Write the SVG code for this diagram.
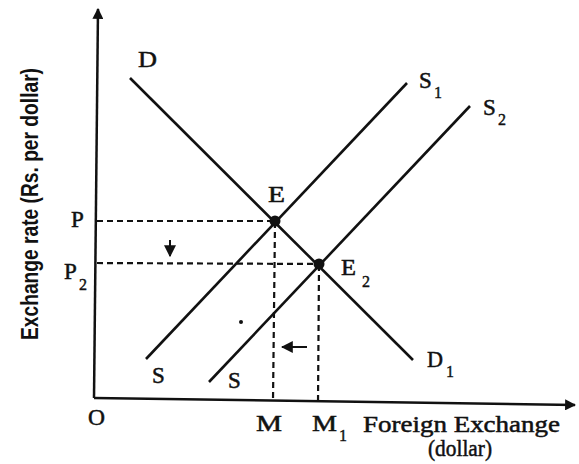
<svg xmlns="http://www.w3.org/2000/svg" width="579" height="464" viewBox="0 0 579 464">
<style>
.ax{stroke:#111;stroke-width:2.5;fill:none}
.ln{stroke:#111;stroke-width:2.6;fill:none;stroke-linecap:butt}
.dash{stroke:#111;stroke-width:2.2;fill:none;stroke-dasharray:6 4}
.t{font-family:"Liberation Serif","Times New Roman",serif;fill:#111;font-size:23px;stroke:#111;stroke-width:0.5}
.sub{font-family:"Liberation Serif","Times New Roman",serif;fill:#111;font-size:16px;stroke:#111;stroke-width:0.4}
.yl{font-family:"Liberation Sans",Arial,sans-serif;fill:#111;font-size:24px;font-weight:bold}
</style>
<defs>
<marker id="ah" viewBox="0 0 10 10" refX="9" refY="5" markerWidth="4.4" markerHeight="4.4" orient="auto" markerUnits="strokeWidth">
<path d="M0,0 L10,5 L0,10 z" fill="#111"/>
</marker>
<marker id="ahs" viewBox="0 0 10 10" refX="9" refY="5" markerWidth="6" markerHeight="6" orient="auto" markerUnits="strokeWidth">
<path d="M0,0 L10,5 L0,10 z" fill="#111"/>
</marker>
</defs>
<rect width="579" height="464" fill="#fff"/>
<g id="axes">
<line class="ax" x1="94" y1="398" x2="98" y2="9" marker-end="url(#ah)"/>
<line class="ax" x1="94" y1="398" x2="575" y2="405" marker-end="url(#ah)"/>
<text class="yl" transform="translate(38,340) rotate(-90)" textLength="272" lengthAdjust="spacingAndGlyphs">Exchange rate (Rs. per dollar)</text>
<text class="t" x="88" y="425" textLength="17" lengthAdjust="spacingAndGlyphs">O</text>
<text class="t" x="363" y="432" font-size="25" textLength="197" lengthAdjust="spacingAndGlyphs">Foreign Exchange</text>
<text class="t" x="428" y="456" textLength="64" lengthAdjust="spacingAndGlyphs">(dollar)</text>
</g>
<g id="connectors">
<line class="dash" x1="97" y1="221" x2="275" y2="221"/>
<line class="dash" x1="97" y1="263" x2="319" y2="264"/>
<line class="dash" x1="275" y1="222" x2="273" y2="401"/>
<line class="dash" x1="319" y1="265" x2="318" y2="404"/>
<line stroke="#111" stroke-width="2" x1="170" y1="240" x2="170" y2="256" marker-end="url(#ahs)"/>
<line stroke="#111" stroke-width="2" x1="307" y1="347" x2="282" y2="347" marker-end="url(#ahs)"/>
</g>
<g id="demand">
<line class="ln" x1="130" y1="78" x2="413" y2="360"/>
<text class="t" x="138" y="67" textLength="19" lengthAdjust="spacingAndGlyphs">D</text>
<text class="t" x="427" y="367" textLength="16" lengthAdjust="spacingAndGlyphs">D</text>
<text class="sub" x="446" y="377">1</text>
</g>
<g id="supply1">
<line class="ln" x1="146" y1="359" x2="407" y2="83"/>
<text class="t" x="419" y="88">S</text>
<text class="sub" x="434" y="98">1</text>
<text class="t" x="152" y="383">S</text>
</g>
<g id="supply2">
<line class="ln" x1="209" y1="382" x2="470" y2="106"/>
<text class="t" x="483" y="115">S</text>
<text class="sub" x="498" y="125">2</text>
<text class="t" x="228" y="388">S</text>
</g>
<g id="E">
<circle cx="275" cy="221" r="5.5" fill="#111"/>
<text class="t" x="268" y="202" textLength="17" lengthAdjust="spacingAndGlyphs">E</text>
</g>
<g id="E2">
<circle cx="319" cy="264" r="5.5" fill="#111"/>
<text class="t" x="341" y="275" textLength="15" lengthAdjust="spacingAndGlyphs">E</text>
<text class="sub" x="362" y="287" font-size="17">2</text>
</g>
<g id="P">
<text class="t" x="71" y="227">P</text>
</g>
<g id="P2">
<text class="t" x="64" y="279">P</text>
<text class="sub" x="79" y="290">2</text>
</g>
<g id="M">
<text class="t" x="256" y="431" textLength="26" lengthAdjust="spacingAndGlyphs">M</text>
</g>
<g id="M1">
<text class="t" x="312" y="431" textLength="25" lengthAdjust="spacingAndGlyphs">M</text>
<text class="sub" x="339" y="441">1</text>
</g>
<g id="dot">
<circle cx="241" cy="322" r="2" fill="#111"/>
</g>
</svg>
